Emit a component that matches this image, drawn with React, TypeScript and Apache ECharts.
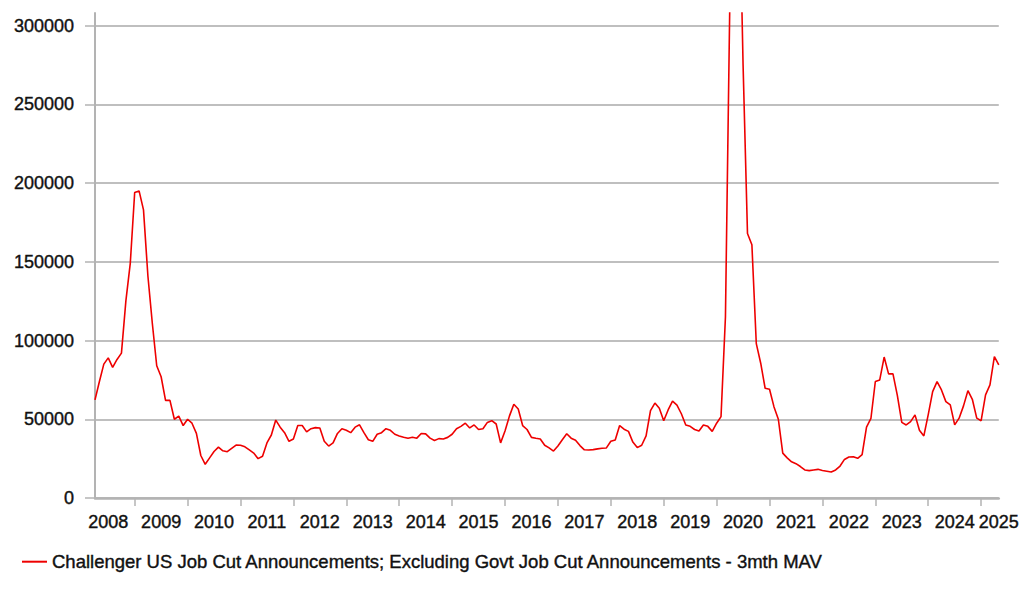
import React, { useEffect, useRef } from "react";
import * as echarts from "echarts";

// Monthly 3-month moving average, Apr 2008 .. May 2025
const startYear = 2008;
const startMonth = 4; // April
const jobCutsMAV = [
  62300, 74000, 85000, 89000, 83000, 88000, 92000, 125000, 149000, 194000,
  195000, 183000, 141000, 111000, 84000, 77000, 62000, 62000, 50000, 52000,
  46000, 50000, 47500, 41000, 27000, 21400, 25500, 29500, 32300, 30000,
  29400, 31500, 33600, 33500, 32500, 30500, 28500, 25000, 26500, 35000,
  40000, 49500, 45000, 41500, 36000, 37500, 46000, 46000, 42000, 44000,
  44700, 44500, 36000, 33000, 35000, 41000, 44000, 43000, 41500, 45000,
  46500, 41500, 37000, 36000, 40500, 41500, 44000, 43000, 40500, 39400,
  38600, 38000, 38600, 38000, 41000, 40700, 38000, 36500, 37700, 37500,
  38500, 40500, 44000, 45500, 47500, 44500, 46400, 43500, 44000, 48000,
  49100, 47000, 35000, 42500, 52000, 59500, 56500, 46000, 43500, 38500,
  37900, 37500, 33500, 31800, 29800, 33000, 37000, 40800, 38000, 36700,
  33300, 30600, 30500, 30700, 31200, 31600, 31800, 36000, 36900, 46000,
  43700, 42300, 35500, 32000, 33500, 39500, 55500, 60300, 57000, 49100,
  55900, 61500, 59000, 53500, 46400, 45500, 43500, 42500, 46400, 45500,
  42300, 47500, 51700, 115000, 316000, 428000, 410000, 275000, 168000, 160800,
  98000, 85600, 69700, 69100, 58000, 50000, 28500, 25500, 23000, 21800,
  20000, 17800, 17400, 17800, 18200, 17500, 17000, 16500, 17800, 20300,
  24500, 26000, 26200, 25200, 27500, 45000, 50500, 74000, 75000, 89500,
  78800, 78800, 65000, 48000, 46400, 48500, 52800, 43000, 39400, 53000,
  67600, 73900, 68600, 61200, 59100, 46400, 50700, 58500, 68200, 62700,
  50700, 49100, 65500, 71800, 89800, 84500,
];
const yTicks = [0, 50000, 100000, 150000, 200000, 250000, 300000];
const seriesName =
  "Challenger US Job Cut Announcements; Excluding Govt Job Cut Announcements - 3mth MAV";

const months: string[] = jobCutsMAV.map((_, i) => {
  const m0 = startMonth - 1 + i;
  const y = startYear + Math.floor(m0 / 12);
  const m = (m0 % 12) + 1;
  return `${y}-${String(m).padStart(2, "0")}`;
});

export default function App() {
  const ref = useRef<HTMLDivElement>(null);
  useEffect(() => {
    if (!ref.current) return;
    const chart = echarts.init(ref.current, null, { renderer: "svg" });
    const lastIdx = months.length - 1;
    const font = "'Liberation Sans', Arial, sans-serif";
    const textCol = "#111111";
    const heavy = { textBorderColor: textCol, textBorderWidth: 0.4 };
    chart.setOption({
      animation: false,
      backgroundColor: "#ffffff",
      grid: { left: 95, right: 22, top: 13, bottom: 99, containLabel: false },
      legend: {
        show: true,
        left: 17,
        top: 547,
        icon: "rect",
        itemWidth: 25,
        itemHeight: 2,
        itemGap: 10,
        textStyle: { fontFamily: font, fontSize: 18.5, color: textCol, ...heavy },
        data: [seriesName],
      },
      xAxis: {
        type: "category",
        data: months,
        boundaryGap: false,
        axisLine: { lineStyle: { color: "#b3b3b3", width: 2.5 } },
        axisTick: {
          length: 8,
          lineStyle: { color: "#b3b3b3", width: 1.5 },
          interval: (idx: number, val: string) => val.endsWith("-01"),
        },
        axisLabel: {
          margin: 15,
          fontFamily: font,
          fontSize: 18,
          color: textCol,
          ...heavy,
          interval: (idx: number, val: string) =>
            val.endsWith("-07") || idx === lastIdx,
          formatter: (val: string) => val.slice(0, 4),
        },
        splitLine: { show: false },
      },
      yAxis: {
        type: "value",
        min: 0,
        max: 308000,
        interval: 50000,
        axisLine: { show: true, lineStyle: { color: "#b3b3b3", width: 2 } },
        axisTick: {
          show: true,
          length: 10,
          lineStyle: { color: "#b3b3b3", width: 1.5 },
          customValues: yTicks,
        },
        axisLabel: {
          margin: 21,
          fontFamily: font,
          fontSize: 18,
          color: textCol,
          ...heavy,
          customValues: yTicks,
          formatter: (v: number) => String(v),
        },
        splitLine: {
          show: true,
          lineStyle: { color: "#aaaaaa", width: 1.5 },
        },
      },
      series: [
        {
          name: seriesName,
          type: "line",
          data: jobCutsMAV,
          showSymbol: false,
          symbol: "none",
          clip: true,
          lineStyle: { color: "#ee0000", width: 1.6 },
          itemStyle: { color: "#ee0000" },
        },
      ],
    });
    return () => chart.dispose();
  }, []);
  return (
    <div
      ref={ref}
      style={{ position: "absolute", left: 0, top: 0, width: 1022, height: 597 }}
    />
  );
}
